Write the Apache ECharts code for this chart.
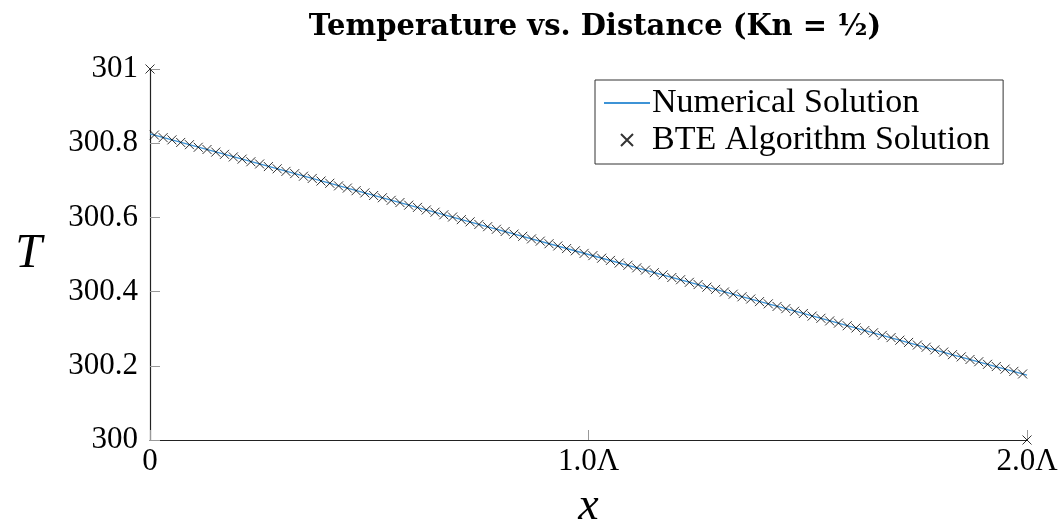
<!DOCTYPE html>
<html>
<head>
<meta charset="utf-8">
<script src="https://cdn.jsdelivr.net/npm/echarts@6/dist/echarts.min.js"></script>
<style>html,body{margin:0;padding:0;background:#fff}#c{width:1063px;height:520px}</style>
</head>
<body>
<div id="c"></div>
<script>
// Numerical solution (line)
const numX = [0, 0.25, 0.5, 0.75, 1.0, 1.25, 1.5, 1.75, 2.0];
const numT = [300.825, 300.744, 300.663, 300.581, 300.500, 300.419, 300.338, 300.256, 300.175];

// BTE algorithm solution (markers)
const bteX = [0.01,0.03,0.05,0.07,0.09,0.11,0.13,0.15,0.17,0.19,
  0.21,0.23,0.25,0.27,0.29,0.31,0.33,0.35,0.37,0.39,
  0.41,0.43,0.45,0.47,0.49,0.51,0.53,0.55,0.57,0.59,
  0.61,0.63,0.65,0.67,0.69,0.71,0.73,0.75,0.77,0.79,
  0.81,0.83,0.85,0.87,0.89,0.91,0.93,0.95,0.97,0.99,
  1.01,1.03,1.05,1.07,1.09,1.11,1.13,1.15,1.17,1.19,
  1.21,1.23,1.25,1.27,1.29,1.31,1.33,1.35,1.37,1.39,
  1.41,1.43,1.45,1.47,1.49,1.51,1.53,1.55,1.57,1.59,
  1.61,1.63,1.65,1.67,1.69,1.71,1.73,1.75,1.77,1.79,
  1.81,1.83,1.85,1.87,1.89,1.91,1.93,1.95,1.97,1.99];
const bteT = [300.822,300.815,300.809,300.802,300.796,300.789,300.783,300.776,300.770,300.763,
  300.757,300.750,300.744,300.737,300.731,300.724,300.718,300.711,300.705,300.698,
  300.692,300.685,300.679,300.672,300.666,300.659,300.653,300.646,300.640,300.633,
  300.627,300.620,300.614,300.607,300.601,300.594,300.588,300.581,300.575,300.568,
  300.562,300.555,300.549,300.542,300.536,300.529,300.523,300.516,300.510,300.503,
  300.497,300.490,300.484,300.477,300.471,300.464,300.458,300.451,300.445,300.438,
  300.432,300.425,300.419,300.412,300.406,300.399,300.393,300.386,300.380,300.373,
  300.367,300.360,300.354,300.347,300.341,300.334,300.328,300.321,300.315,300.308,
  300.302,300.295,300.289,300.282,300.276,300.269,300.263,300.256,300.250,300.243,
  300.237,300.230,300.224,300.217,300.211,300.204,300.198,300.191,300.185,300.178];
// Boundary points of the BTE solution
const bteBoundX = [0, 2];
const bteBoundT = [301, 300];

const xTickValues = [0, 1, 2];
const xTickLabels = ['0', '1.0Λ', '2.0Λ'];

const FONT = "'Liberation Serif', serif";
const crossPath = 'path://M0,0L10,10M10,0L0,10';

const bteData = bteBoundX.map((x, i) => [x, bteBoundT[i]]).slice(0, 1)
  .concat(bteX.map((x, i) => [x, bteT[i]]))
  .concat(bteBoundX.map((x, i) => [x, bteBoundT[i]]).slice(1));

const chart = echarts.init(document.getElementById('c'), null, {renderer: 'canvas'});
chart.setOption({
  animation: false,
  backgroundColor: '#fff',
  title: {
    text: 'Temperature vs. Distance (Kn = ½)',
    left: 590, top: 8, textAlign: 'center',
    textStyle: {fontFamily: "'DejaVu Serif', serif", fontWeight: 'bold', fontSize: 29, color: '#000'}
  },
  grid: {left: 150, right: 36, top: 69, bottom: 80, outerBoundsMode: 'none', containLabel: false},
  legend: {
    orient: 'vertical',
    left: 595, top: 80,
    padding: [6, 13, 7, 8],
    itemGap: 3,
    itemWidth: 46, itemHeight: 12,
    borderColor: '#333', borderWidth: 1,
    textStyle: {fontFamily: FONT, fontSize: 34, color: '#000', padding: [0, 0, 0, -3]},
    data: [
      {name: 'Numerical Solution', itemStyle: {opacity: 0}},
      {name: 'BTE Algorithm Solution'}
    ]
  },
  xAxis: {
    type: 'value', min: 0, max: 2, interval: 1,
    name: 'x', nameLocation: 'middle', nameGap: 44,
    nameTextStyle: {fontFamily: FONT, fontStyle: 'italic', fontSize: 46, color: '#000'},
    axisLine: {lineStyle: {color: '#222', width: 1.2}},
    axisTick: {inside: true, length: 10, lineStyle: {color: '#999'}},
    axisLabel: {
      fontFamily: FONT, fontSize: 31, color: '#000', margin: 6,
      formatter: v => { const i = xTickValues.indexOf(v); return i >= 0 ? xTickLabels[i] : ''; }
    },
    splitLine: {show: false}
  },
  yAxis: {
    type: 'value', min: 300, max: 301, interval: 0.2,
    name: 'T', nameLocation: 'middle', nameGap: 108, nameRotate: 0,
    nameTextStyle: {fontFamily: FONT, fontStyle: 'italic', fontSize: 48, color: '#000'},
    axisLine: {show: true, lineStyle: {color: '#222', width: 1.2}},
    axisTick: {show: true, inside: true, length: 10, lineStyle: {color: '#999'}},
    axisLabel: {fontFamily: FONT, fontSize: 31, color: '#000', margin: 12},
    splitLine: {show: false}
  },
  series: [
    {
      name: 'Numerical Solution', type: 'line', symbol: 'none',
      data: numX.map((x, i) => [x, numT[i]]),
      lineStyle: {color: '#3d93d6', width: 1.3},
      itemStyle: {color: '#3d93d6'},
      z: 2
    },
    {
      name: 'BTE Algorithm Solution', type: 'scatter',
      symbol: crossPath, symbolSize: 9,
      clip: false,
      data: bteData,
      itemStyle: {color: 'rgba(0,0,0,0)', borderColor: '#000', borderWidth: 1},
      z: 3
    }
  ]
});
</script>
</body>
</html>
